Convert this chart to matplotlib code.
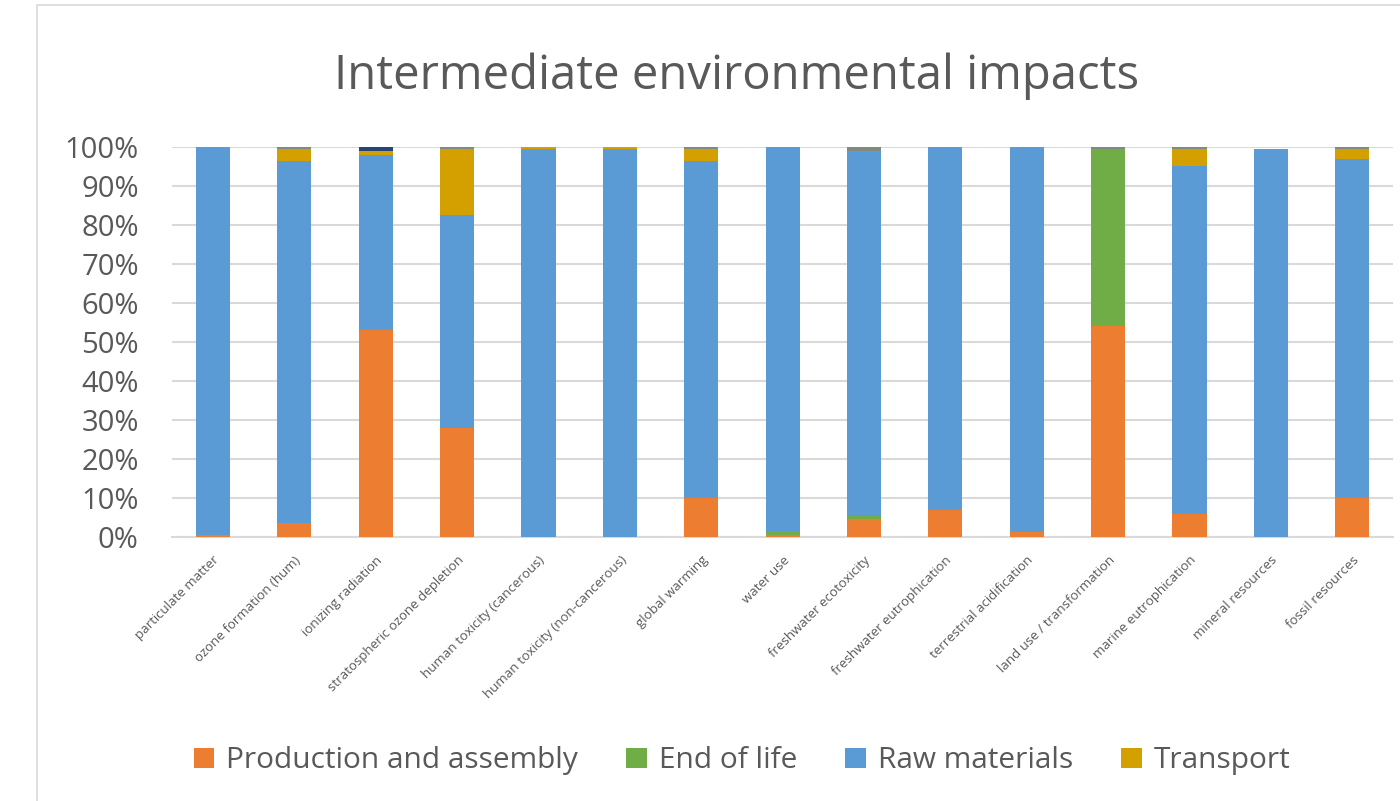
import numpy as np
import matplotlib
matplotlib.use("Agg")
import matplotlib.pyplot as plt
from matplotlib.patches import Rectangle

plt.rcParams['font.family'] = ['Open Sans', 'DejaVu Sans']

# impact categories along the x axis
categories = [
    "particulate matter", "ozone formation (hum)", "ionizing radiation",
    "stratospheric ozone depletion", "human toxicity (cancerous)",
    "human toxicity (non-cancerous)", "global warming", "water use",
    "freshwater ecotoxicity", "freshwater eutrophication",
    "terrestrial acidification", "land use / transformation",
    "marine eutrophication", "mineral resources", "fossil resources",
]

# shares per life cycle stage, in percent
production = [0.5, 3.5, 53, 28, 0, 0, 10, 0.5, 4.5, 7, 1.2, 54, 6, 0, 10]
end_of_life = [0, 0, 0, 0, 0, 0, 0, 1, 1, 0, 0, 45.5, 0, 0, 0]
raw_materials = [99.5, 93, 45, 54.5, 99.5, 99.5, 86.5, 98.5, 93.5, 93, 98.8, 0, 89, 99.5, 87]
transport = [0, 3, 1, 17, 0.5, 0.5, 3, 0, 0, 0, 0, 0, 4.5, 0, 2.5]
# small stages that are not in the legend
other_grey = [0, 0.5, 0, 0.5, 0, 0, 0.5, 0, 1, 0, 0, 0.5, 0.5, 0, 0.5]
other_blue = [0, 0, 1, 0, 0, 0, 0, 0, 0, 0, 0, 0, 0, 0, 0]

series = [
    ("Production and assembly", production, "#ED7D31"),
    ("End of life", end_of_life, "#70AD47"),
    ("Raw materials", raw_materials, "#5B9BD5"),
    ("Transport", transport, "#D4A000"),
    ("_grey", other_grey, "#7F8A80"),
    ("_blue", other_blue, "#264478"),
]

fig = plt.figure(figsize=(14, 8.01), dpi=100)
# outer chart frame
fig.patches.append(Rectangle((37 / 1400, -0.1), 1.2, 1 - 5 / 801 + 0.1,
                             transform=fig.transFigure, fill=False,
                             edgecolor="#D9D9D9", linewidth=1.2))
ax = fig.add_axes([0.123, 0.3296, 0.872, 0.487])

x = np.arange(len(categories))
bottom = np.zeros(len(categories))
for label, vals, color in series:
    vals = np.array(vals) / 100.0
    ax.bar(x, vals, 0.42, bottom=bottom, color=color, label=label, zorder=3)
    bottom += vals

ax.set_ylim(0, 1)
ax.set_xlim(-0.5, len(categories) - 0.5)
ax.set_yticks(np.arange(0, 1.01, 0.1))
ax.set_yticklabels([f"{int(round(v * 100))}%" for v in np.arange(0, 1.01, 0.1)],
                   fontsize=21, color="#595959")
ax.set_xticks(x)
ax.set_xticklabels(categories, rotation=45, ha="right", rotation_mode="anchor",
                   fontsize=9.5, color="#595959")
ax.tick_params(length=0)
ax.tick_params(axis="y", pad=24)
ax.tick_params(axis="x", pad=12)
ax.yaxis.grid(True, color="#D9D9D9", linewidth=1.5, zorder=0)
for s in ["top", "right", "left"]:
    ax.spines[s].set_visible(False)
ax.spines["bottom"].set_color("#D9D9D9")
ax.spines["bottom"].set_linewidth(1.5)

fig.text(0.526, 0.905, "Intermediate environmental impacts", ha="center",
         va="center", fontsize=34, color="#595959")

handles, labels = ax.get_legend_handles_labels()
fig.legend(handles, labels, loc="center", bbox_to_anchor=(0.53, 0.05), ncol=4,
           frameon=False, fontsize=21.5, handlelength=0.7, handleheight=0.7,
           columnspacing=1.6, handletextpad=0.4, labelcolor="#595959")

fig.savefig("out.png", dpi=100)
